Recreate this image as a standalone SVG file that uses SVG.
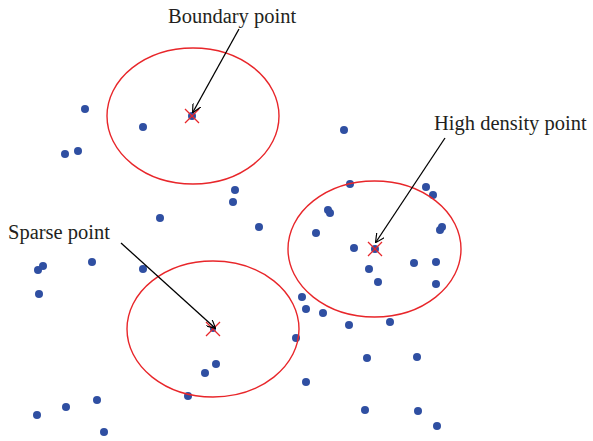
<svg xmlns="http://www.w3.org/2000/svg" width="593" height="441" viewBox="0 0 593 441">
<style>
.dot{fill:#2F4FA2}
.ring{fill:none;stroke:#E8262A;stroke-width:1.4}
.x{stroke:#E8262A;stroke-width:1.3}
.arr{stroke:#000;stroke-width:1.3;fill:none;marker-end:url(#ah)}
.lbl{font-family:"Liberation Serif",serif;font-size:20.5px;fill:#231F20}
</style>
<defs>
<marker id="ah" viewBox="0 0 10 10" refX="9" refY="5" markerWidth="9" markerHeight="9" markerUnits="userSpaceOnUse" orient="auto">
<path d="M0,0 L10,5 L0,10" fill="none" stroke="#000" stroke-width="1.3"/>
</marker>
</defs>
<rect width="593" height="441" fill="#fff"/>
<g id="points">
<circle class="dot" cx="85" cy="109" r="4"/>
<circle class="dot" cx="143" cy="127" r="4"/>
<circle class="dot" cx="65" cy="154" r="4"/>
<circle class="dot" cx="78" cy="151" r="4"/>
<circle class="dot" cx="235" cy="190" r="4"/>
<circle class="dot" cx="233" cy="202" r="4"/>
<circle class="dot" cx="160" cy="218" r="4"/>
<circle class="dot" cx="259" cy="227" r="4"/>
<circle class="dot" cx="344" cy="130" r="4"/>
<circle class="dot" cx="350" cy="184" r="4"/>
<circle class="dot" cx="426" cy="187" r="4"/>
<circle class="dot" cx="433" cy="195" r="4"/>
<circle class="dot" cx="328" cy="210" r="4"/>
<circle class="dot" cx="330" cy="213" r="4"/>
<circle class="dot" cx="442" cy="227" r="4"/>
<circle class="dot" cx="440" cy="230" r="4"/>
<circle class="dot" cx="316" cy="233" r="4"/>
<circle class="dot" cx="354" cy="248" r="4"/>
<circle class="dot" cx="369" cy="269" r="4"/>
<circle class="dot" cx="378" cy="282" r="4"/>
<circle class="dot" cx="414" cy="263" r="4"/>
<circle class="dot" cx="436" cy="262" r="4"/>
<circle class="dot" cx="436" cy="284" r="4"/>
<circle class="dot" cx="302" cy="297" r="4"/>
<circle class="dot" cx="306" cy="309" r="4"/>
<circle class="dot" cx="323" cy="313" r="4"/>
<circle class="dot" cx="349" cy="325" r="4"/>
<circle class="dot" cx="390" cy="322" r="4"/>
<circle class="dot" cx="296" cy="338" r="4"/>
<circle class="dot" cx="38" cy="270" r="4"/>
<circle class="dot" cx="43" cy="266" r="4"/>
<circle class="dot" cx="92" cy="262" r="4"/>
<circle class="dot" cx="143" cy="269" r="4"/>
<circle class="dot" cx="39" cy="294" r="4"/>
<circle class="dot" cx="216" cy="364" r="4"/>
<circle class="dot" cx="205" cy="373" r="4"/>
<circle class="dot" cx="188" cy="396" r="4"/>
<circle class="dot" cx="306" cy="382" r="4"/>
<circle class="dot" cx="97" cy="400" r="4"/>
<circle class="dot" cx="66" cy="407" r="4"/>
<circle class="dot" cx="37" cy="415" r="4"/>
<circle class="dot" cx="104" cy="432" r="4"/>
<circle class="dot" cx="367" cy="358" r="4"/>
<circle class="dot" cx="417" cy="357" r="4"/>
<circle class="dot" cx="365" cy="410" r="4"/>
<circle class="dot" cx="418" cy="411" r="4"/>
<circle class="dot" cx="437" cy="426" r="4"/>
</g>
<g id="boundary">
<ellipse class="ring" cx="193" cy="116" rx="86" ry="68"/>
<circle class="dot" cx="192" cy="116" r="4"/>
<path class="x" d="M185,109 L199,123 M199,109 L185,123"/>
<text class="lbl" x="168" y="23">Boundary point</text>
</g>
<g id="highdensity">
<ellipse class="ring" cx="374.5" cy="249" rx="86.5" ry="68"/>
<circle class="dot" cx="375" cy="249" r="4"/>
<path class="x" d="M368,242 L382,256 M382,242 L368,256"/>
<text class="lbl" x="434" y="130">High density point</text>
</g>
<g id="sparse">
<ellipse class="ring" cx="213" cy="329" rx="86" ry="68"/>
<circle class="dot" cx="213" cy="329" r="3"/>
<path class="x" d="M206,322 L220,336 M220,322 L206,336"/>
<text class="lbl" x="8" y="239">Sparse point</text>
</g>
<g id="connectors">
<line class="arr" x1="239" y1="29" x2="193" y2="112"/>
<line class="arr" x1="445" y1="138" x2="376" y2="242"/>
<line class="arr" x1="121" y1="243" x2="215" y2="328"/>
</g>
</svg>
